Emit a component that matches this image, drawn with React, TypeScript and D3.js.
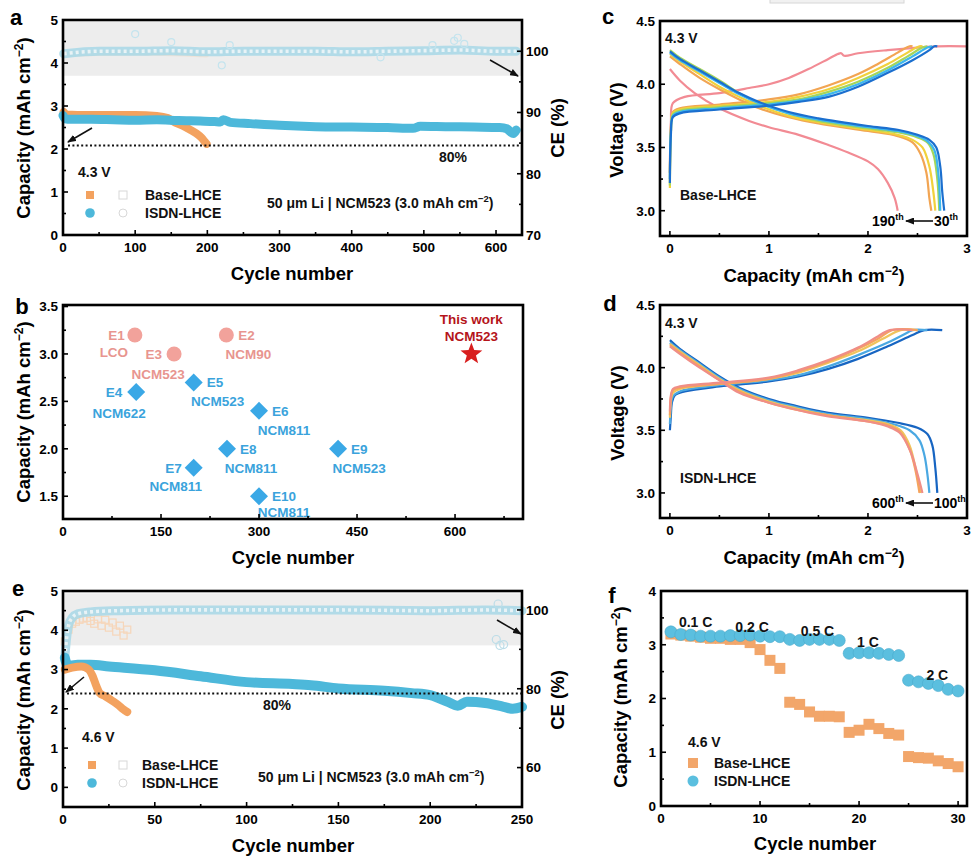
import React from 'react';
import * as d3 from 'd3';

const FONT = "'Liberation Sans', Arial, Helvetica, sans-serif";
const ORANGE = '#f3a25f';
const BLUE = '#4db8da';
const CE_BLUE = '#a8d9e8';
const CE_ORANGE = '#f6d6ba';
const BAND = '#ededed';

// ---------- a: 4.3 V long-term cycling ----------
const aIsdnCycles = [0, 2, 6, 15, 40, 70, 100, 130, 160, 190, 210, 218, 222, 232, 260, 300, 350, 400, 450, 485, 495, 530, 570, 605, 615, 620, 624, 628];
const aIsdnCap = [2.78, 2.72, 2.69, 2.69, 2.69, 2.68, 2.67, 2.68, 2.66, 2.65, 2.64, 2.63, 2.68, 2.62, 2.59, 2.55, 2.52, 2.51, 2.5, 2.48, 2.53, 2.52, 2.51, 2.5, 2.47, 2.4, 2.36, 2.44];
const aBaseCycles = [1, 5, 20, 60, 100, 130, 145, 155, 165, 175, 185, 192, 197, 199];
const aBaseCap = [2.86, 2.8, 2.79, 2.79, 2.79, 2.77, 2.72, 2.62, 2.55, 2.46, 2.36, 2.26, 2.16, 2.12];
const aIsdnCeCycles = [1, 50, 100, 150, 200, 250, 300, 350, 400, 450, 500, 550, 600, 628];
const aIsdnCe = [99.6, 100, 100, 100.1, 99.9, 100, 100, 100, 99.9, 100, 100.1, 100.2, 100, 100];
const aBaseCeCycles = [1, 100, 199];
const aBaseCe = [99.5, 99.7, 99.4];
const aCeOutCycles = [100, 150, 220, 231, 440, 512, 542, 547, 556];
const aCeOut = [102.8, 101.5, 97.7, 101, 99, 101, 101.7, 102.2, 101.2];

// ---------- b: comparison with literature ----------
const bNames = ['E1', 'E2', 'E3', 'E4', 'E5', 'E6', 'E7', 'E8', 'E9', 'E10'];
const bCathodes = ['LCO', 'NCM90', 'NCM523', 'NCM622', 'NCM523', 'NCM811', 'NCM811', 'NCM811', 'NCM523', 'NCM811'];
const bCycles = [110, 250, 170, 112, 200, 300, 200, 251, 421, 300];
const bCaps = [3.2, 3.2, 3.0, 2.6, 2.7, 2.4, 1.8, 2.0, 2.0, 1.5];
const bKinds = ['circle', 'circle', 'circle', 'diamond', 'diamond', 'diamond', 'diamond', 'diamond', 'diamond', 'diamond'];
const thisWorkCycle = 625;
const thisWorkCap = 3.0;

// ---------- c: Base-LHCE voltage profiles ----------
const cBlueChg = [[0, 3.22], [0.01, 3.6], [0.03, 3.74], [0.1, 3.77], [0.5, 3.8], [1.0, 3.83], [1.3, 3.86], [1.6, 3.9], [1.9, 3.98], [2.2, 4.09], [2.45, 4.19], [2.62, 4.27], [2.67, 4.3], [2.7, 4.3]];
const cBlueDis = [[0, 4.26], [0.1, 4.2], [0.3, 4.11], [0.5, 4.02], [0.7, 3.93], [0.9, 3.86], [1.2, 3.78], [1.5, 3.73], [2.0, 3.67], [2.3, 3.64], [2.5, 3.6], [2.62, 3.56], [2.69, 3.5], [2.73, 3.35], [2.75, 3.15], [2.77, 3.0]];
const cCyanChg = [[0, 3.25], [0.01, 3.62], [0.03, 3.75], [0.1, 3.78], [0.5, 3.81], [1.0, 3.84], [1.3, 3.87], [1.6, 3.92], [1.9, 4.0], [2.2, 4.11], [2.45, 4.22], [2.6, 4.29], [2.65, 4.3]];
const cCyanDis = [[0, 4.25], [0.1, 4.19], [0.3, 4.1], [0.5, 4.01], [0.7, 3.92], [0.9, 3.85], [1.2, 3.77], [1.5, 3.72], [2.0, 3.66], [2.3, 3.63], [2.5, 3.59], [2.6, 3.55], [2.67, 3.48], [2.71, 3.3], [2.73, 3.0]];
const cGreenChg = [[0, 3.2], [0.01, 3.62], [0.03, 3.76], [0.1, 3.79], [0.5, 3.82], [1.0, 3.85], [1.3, 3.88], [1.6, 3.94], [1.9, 4.02], [2.2, 4.13], [2.4, 4.22], [2.55, 4.29], [2.6, 4.3]];
const cGreenDis = [[0, 4.27], [0.1, 4.21], [0.3, 4.12], [0.5, 4.03], [0.7, 3.93], [0.9, 3.85], [1.2, 3.77], [1.5, 3.71], [2.0, 3.65], [2.3, 3.62], [2.5, 3.58], [2.6, 3.54], [2.66, 3.45], [2.7, 3.25], [2.72, 3.0]];
const cYellowChg = [[0, 3.18], [0.01, 3.62], [0.03, 3.77], [0.1, 3.8], [0.5, 3.83], [1.0, 3.86], [1.3, 3.9], [1.6, 3.96], [1.9, 4.05], [2.2, 4.16], [2.4, 4.25], [2.52, 4.3], [2.55, 4.3]];
const cYellowDis = [[0, 4.24], [0.1, 4.18], [0.3, 4.08], [0.5, 3.98], [0.7, 3.9], [0.9, 3.83], [1.2, 3.75], [1.5, 3.7], [2.0, 3.64], [2.3, 3.6], [2.45, 3.56], [2.55, 3.5], [2.62, 3.35], [2.66, 3.15], [2.68, 3.0]];
const cOrangeChg = [[0, 3.3], [0.01, 3.65], [0.03, 3.78], [0.1, 3.81], [0.5, 3.84], [1.0, 3.88], [1.3, 3.92], [1.6, 3.99], [1.9, 4.08], [2.1, 4.16], [2.3, 4.25], [2.42, 4.3], [2.45, 4.3]];
const cOrangeDis = [[0, 4.22], [0.1, 4.16], [0.3, 4.05], [0.5, 3.96], [0.7, 3.88], [0.9, 3.81], [1.2, 3.74], [1.5, 3.69], [2.0, 3.63], [2.3, 3.59], [2.45, 3.54], [2.53, 3.45], [2.59, 3.3], [2.62, 3.1], [2.64, 3.0]];
const cPinkChg = [[0, 3.3], [0.01, 3.7], [0.03, 3.85], [0.15, 3.9], [0.5, 3.93], [0.8, 3.97], [1.0, 4.0], [1.2, 4.05], [1.4, 4.12], [1.6, 4.2], [1.7, 4.24], [1.73, 4.245], [1.76, 4.225], [1.9, 4.245], [2.2, 4.27], [2.5, 4.29], [2.7, 4.3], [3.0, 4.3]];
const cPinkDis = [[0, 4.12], [0.1, 4.03], [0.25, 3.93], [0.5, 3.81], [0.8, 3.71], [1.0, 3.66], [1.3, 3.6], [1.6, 3.52], [1.8, 3.46], [2.0, 3.39], [2.1, 3.33], [2.2, 3.22], [2.27, 3.1], [2.3, 3.0]];
const cCurves = [
  { color: '#f28b94', chg: cPinkChg, dis: cPinkDis },
  { color: '#f2a553', chg: cOrangeChg, dis: cOrangeDis },
  { color: '#f1d13c', chg: cYellowChg, dis: cYellowDis },
  { color: '#a5d65a', chg: cGreenChg, dis: cGreenDis },
  { color: '#3cb6ee', chg: cCyanChg, dis: cCyanDis },
  { color: '#1b6fcf', chg: cBlueChg, dis: cBlueDis },
];

// ---------- d: ISDN-LHCE voltage profiles ----------
const dBlueChg = [[0, 3.5], [0.01, 3.62], [0.02, 3.72], [0.05, 3.78], [0.15, 3.81], [0.5, 3.85], [1.0, 3.89], [1.3, 3.93], [1.6, 3.99], [1.9, 4.07], [2.2, 4.17], [2.45, 4.26], [2.57, 4.3], [2.75, 4.3]];
const dBlueDis = [[0, 4.22], [0.1, 4.15], [0.3, 4.04], [0.5, 3.93], [0.7, 3.84], [1.0, 3.75], [1.3, 3.69], [1.6, 3.64], [2.0, 3.6], [2.3, 3.56], [2.5, 3.52], [2.6, 3.47], [2.65, 3.38], [2.68, 3.2], [2.7, 3.0]];
const dLBlueChg = [[0, 3.55], [0.01, 3.68], [0.03, 3.77], [0.1, 3.81], [0.5, 3.86], [1.0, 3.9], [1.3, 3.94], [1.6, 4.01], [1.9, 4.1], [2.2, 4.2], [2.4, 4.28], [2.45, 4.3], [2.6, 4.3]];
const dLBlueDis = [[0, 4.2], [0.1, 4.14], [0.3, 4.03], [0.5, 3.92], [0.7, 3.83], [1.0, 3.74], [1.3, 3.68], [1.6, 3.63], [2.0, 3.59], [2.25, 3.55], [2.42, 3.5], [2.52, 3.42], [2.57, 3.3], [2.6, 3.15], [2.62, 3.0]];
const dYellowChg = [[0, 3.6], [0.01, 3.74], [0.03, 3.8], [0.1, 3.83], [0.5, 3.87], [1.0, 3.91], [1.3, 3.96], [1.6, 4.04], [1.9, 4.13], [2.15, 4.23], [2.33, 4.3], [2.5, 4.3]];
const dYellowDis = [[0, 4.19], [0.1, 4.13], [0.3, 4.02], [0.5, 3.91], [0.7, 3.82], [1.0, 3.73], [1.3, 3.67], [1.6, 3.62], [2.0, 3.58], [2.2, 3.55], [2.33, 3.5], [2.42, 3.38], [2.48, 3.2], [2.53, 3.0]];
const dOrangeChg = [[0, 3.62], [0.01, 3.76], [0.03, 3.82], [0.1, 3.84], [0.5, 3.87], [1.0, 3.91], [1.3, 3.97], [1.6, 4.05], [1.9, 4.15], [2.1, 4.23], [2.25, 4.3], [2.5, 4.3]];
const dOrangeDis = [[0, 4.18], [0.1, 4.12], [0.3, 4.01], [0.5, 3.9], [0.7, 3.81], [1.0, 3.72], [1.3, 3.66], [1.6, 3.62], [2.0, 3.57], [2.2, 3.54], [2.32, 3.49], [2.42, 3.35], [2.48, 3.18], [2.52, 3.0]];
const dPinkChg = [[0, 3.65], [0.01, 3.78], [0.03, 3.83], [0.1, 3.85], [0.5, 3.88], [1.0, 3.92], [1.3, 3.98], [1.6, 4.06], [1.9, 4.16], [2.08, 4.24], [2.22, 4.3], [2.45, 4.3]];
const dPinkDis = [[0, 4.17], [0.1, 4.11], [0.3, 4.0], [0.5, 3.9], [0.7, 3.8], [1.0, 3.72], [1.3, 3.66], [1.6, 3.61], [2.0, 3.57], [2.2, 3.53], [2.32, 3.48], [2.43, 3.33], [2.5, 3.15], [2.55, 3.0]];
const dCurves = [
  { color: '#1765c2', chg: dBlueChg, dis: dBlueDis },
  { color: '#4aa8e2', chg: dLBlueChg, dis: dLBlueDis },
  { color: '#f0c45c', chg: dYellowChg, dis: dYellowDis },
  { color: '#f5a35e', chg: dOrangeChg, dis: dOrangeDis },
  { color: '#f08e86', chg: dPinkChg, dis: dPinkDis },
];

// ---------- e: 4.6 V cycling ----------
const eIsdnCycles = [1, 2, 4, 8, 15, 25, 50, 75, 100, 125, 135, 150, 175, 190, 200, 210, 215, 220, 230, 240, 245, 250];
const eIsdnCap = [3.3, 3.15, 3.1, 3.12, 3.12, 3.08, 2.98, 2.83, 2.68, 2.63, 2.6, 2.52, 2.46, 2.4, 2.35, 2.17, 2.08, 2.18, 2.15, 2.05, 2.0, 2.05];
const eBaseCycles = [1, 5, 10, 14, 16, 18, 20, 23, 27, 30, 33, 35];
const eBaseCap = [3.0, 3.05, 3.08, 3.0, 2.85, 2.6, 2.4, 2.32, 2.2, 2.1, 1.98, 1.92];
const eIsdnCeCycles = [1, 2, 3, 5, 8, 15, 30, 60, 100, 150, 200, 230, 250];
const eIsdnCe = [88, 93, 96, 98, 99, 99.5, 99.8, 100, 100, 100, 99.8, 100, 99.8];
const eBaseCeCycles = [1, 3, 5, 7, 9, 11, 13, 15, 17, 19, 21, 23, 25, 27, 29, 31, 33, 35];
const eBaseCe = [92, 95, 96.5, 97, 97.5, 97.8, 98, 97.2, 96.5, 97.6, 96, 97.5, 95.5, 96.8, 94.5, 96, 93.5, 95];
const eCeOutCycles = [236, 238, 240, 237];
const eCeOut = [92.5, 91, 91.2, 101.5];

// ---------- f: rate capability ----------
const fCycles = [1, 2, 3, 4, 5, 6, 7, 8, 9, 10, 11, 12, 13, 14, 15, 16, 17, 18, 19, 20, 21, 22, 23, 24, 25, 26, 27, 28, 29, 30];
const fIsdn = [3.24, 3.19, 3.18, 3.16, 3.16, 3.16, 3.17, 3.17, 3.18, 3.16, 3.15, 3.15, 3.1, 3.08, 3.1, 3.1, 3.1, 3.08, 2.84, 2.85, 2.85, 2.84, 2.82, 2.8, 2.34, 2.31, 2.28, 2.24, 2.17, 2.14];
const fBase = [3.2, 3.18, 3.16, 3.14, 3.12, 3.12, 3.1, 3.1, 3.04, 2.91, 2.71, 2.56, 1.93, 1.89, 1.75, 1.67, 1.67, 1.66, 1.37, 1.41, 1.52, 1.44, 1.35, 1.32, 0.92, 0.9, 0.89, 0.84, 0.79, 0.73];
const fRates = ['0.1 C', '0.2 C', '0.5 C', '1 C', '2 C'];
const fRateCycle = [3.5, 9.2, 15.8, 20.9, 27.9];
const fRateCap = [3.42, 3.34, 3.25, 3.05, 2.43];

// ---------- scales ----------
const xA = d3.scaleLinear().domain([0, 636]).range([63, 522]);
const yA = d3.scaleLinear().domain([0, 5]).range([235, 20]);
const ceA = d3.scaleLinear().domain([70, 105.1]).range([235, 20]);
const xB = d3.scaleLinear().domain([0, 704]).range([63, 523]);
const yB = d3.scaleLinear().domain([1.26, 3.516]).range([519, 305]);
const xE = d3.scaleLinear().domain([0, 250]).range([63, 522]);
const yE = d3.scaleLinear().domain([-0.5, 5]).range([807, 591]);
const ceE = d3.scaleLinear().domain([50, 104.8]).range([807, 591]);
const xC = d3.scaleLinear().domain([-0.1, 3]).range([660, 967]);
const yC = d3.scaleLinear().domain([2.8, 4.5]).range([236, 21]);
const xD = d3.scaleLinear().domain([-0.1, 3]).range([660, 967]);
const yD = d3.scaleLinear().domain([2.8, 4.5]).range([518, 305]);
const xF = d3.scaleLinear().domain([0, 30.9]).range([661, 967]);
const yF = d3.scaleLinear().domain([0, 4]).range([806, 591]);

const f1 = d3.format('.1f');

function Ticks({ x, y, xMajor, xMinor, yMajor, yMinor, yFmt = String, r = null, rMajor = [], rMinor = [] }: any) {
  const [L, R] = x.range();
  const [B, T] = y.range();
  const tk = (k: string, x1: number, y1: number, x2: number, y2: number) => (
    <line key={k} x1={x1} y1={y1} x2={x2} y2={y2} stroke="#000" strokeWidth={1.6} />
  );
  return (
    <g fontFamily={FONT} fontWeight="bold" fontSize={13.5}>
      {xMajor.map((v: number) => tk('xM' + v, x(v), B, x(v), B - 5))}
      {xMinor.map((v: number) => tk('xm' + v, x(v), B, x(v), B - 3))}
      {yMajor.map((v: number) => tk('yM' + v, L, y(v), L + 5, y(v)))}
      {yMinor.map((v: number) => tk('ym' + v, L, y(v), L + 3, y(v)))}
      {r && rMajor.map((v: number) => tk('rM' + v, R, r(v), R - 5, r(v)))}
      {r && rMinor.map((v: number) => tk('rm' + v, R, r(v), R - 3, r(v)))}
      <rect x={L} y={T} width={R - L} height={B - T} fill="none" stroke="#000" strokeWidth={2.6} />
      {xMajor.map((v: number) => (
        <text key={'xl' + v} x={x(v)} y={B + 17} textAnchor="middle">{v}</text>
      ))}
      {yMajor.map((v: number) => (
        <text key={'yl' + v} x={L - 5} y={y(v)} dy="0.36em" textAnchor="end">{yFmt(v)}</text>
      ))}
      {r && rMajor.map((v: number) => (
        <text key={'rl' + v} x={R + 4} y={r(v)} dy="0.36em">{v}</text>
      ))}
    </g>
  );
}

function CapTitle({ x, y, rotate = true }: any) {
  const t = rotate ? `translate(${x},${y}) rotate(-90)` : `translate(${x},${y})`;
  return (
    <text transform={t} dy="0.36em" textAnchor="middle" fontFamily={FONT} fontWeight="bold" fontSize={18.5}>
      Capacity (mAh cm<tspan dy={-7} fontSize={12}>−2</tspan><tspan dy={7}>)</tspan>
    </text>
  );
}

function VTitle({ x, y, text }: any) {
  return (
    <text transform={`translate(${x},${y}) rotate(-90)`} dy="0.36em" textAnchor="middle" fontFamily={FONT} fontWeight="bold" fontSize={18.5}>
      {text}
    </text>
  );
}

function HTitle({ x, y, text }: any) {
  return (
    <text x={x} y={y} dy="0.36em" textAnchor="middle" fontFamily={FONT} fontWeight="bold" fontSize={18.5}>{text}</text>
  );
}

function Label({ x, y, children, anchor = 'start', size = 14, color = '#111' }: any) {
  return (
    <text x={x} y={y} dy="0.36em" textAnchor={anchor} fontFamily={FONT} fontWeight="bold" fontSize={size} fill={color}>{children}</text>
  );
}

function Letter({ x, y, t }: any) {
  return <text x={x} y={y} textAnchor="middle" fontFamily={FONT} fontWeight="bold" fontSize={22}>{t}</text>;
}

function Band({ xs, ys, x, y, color, width }: any) {
  const line = d3.line<number>().x((_, i) => x(xs[i])).y((v) => y(v)).curve(d3.curveMonotoneX);
  return <path d={line(ys) || ''} fill="none" stroke={color} strokeWidth={width} strokeLinecap="round" strokeLinejoin="round" />;
}

function CeBand({ xs, ys, x, y, color, width = 8, opacity = 0.85 }: any) {
  const line = d3.line<number>().x((_, i) => x(xs[i])).y((v) => y(v)).curve(d3.curveMonotoneX);
  const d = line(ys) || '';
  return (
    <g opacity={opacity}>
      <path d={d} fill="none" stroke={color} strokeWidth={width} strokeLinecap="round" />
      <path d={d} fill="none" stroke="#f7fbfc" strokeWidth={width * 0.4} strokeDasharray="3 3" opacity={0.8} />
    </g>
  );
}

function Arrow({ x1, y1, x2, y2 }: any) {
  return <line x1={x1} y1={y1} x2={x2} y2={y2} stroke="#111" strokeWidth={1.6} markerEnd="url(#arrowHead)" />;
}

function Profiles({ curves, x, y }: any) {
  const line = d3.line<number[]>().x((d) => x(d[0])).y((d) => y(d[1])).curve(d3.curveCatmullRom.alpha(0.5));
  return (
    <g fill="none" strokeWidth={2.2} strokeLinejoin="round">
      {curves.map((c: any, i: number) => (
        <g key={i} stroke={c.color}>
          <path d={line(c.chg) || ''} />
          <path d={line(c.dis) || ''} />
        </g>
      ))}
    </g>
  );
}

function Diamond({ cx, cy, r, fill }: any) {
  return <path d={`M${cx},${cy - r}L${cx + r},${cy}L${cx},${cy + r}L${cx - r},${cy}Z`} fill={fill} />;
}

function Sup({ base, sup }: any) {
  return (
    <>
      {base}<tspan dy={-6} fontSize={9}>{sup}</tspan><tspan dy={6}> </tspan>
    </>
  );
}

// label layout for panel b: offsets of name and cathode text from the marker
const bLayout = [
  { nx: -10, na: 'end', cx: -21, cy: 17 },
  { nx: 12, na: 'start', cx: 22, cy: 19 },
  { nx: -12, na: 'end', cx: -16, cy: 20 },
  { nx: -14, na: 'end', cx: -17, cy: 21 },
  { nx: 13, na: 'start', cx: 24, cy: 19 },
  { nx: 13, na: 'start', cx: 25, cy: 19 },
  { nx: -12, na: 'end', cx: -18, cy: 18 },
  { nx: 13, na: 'start', cx: 24, cy: 19 },
  { nx: 13, na: 'start', cx: 21, cy: 19 },
  { nx: 13, na: 'start', cx: 25, cy: 16 },
];

function star(cx: number, cy: number, R: number, r: number) {
  const pts: string[] = [];
  for (let i = 0; i < 10; i++) {
    const a = -Math.PI / 2 + (i * Math.PI) / 5;
    const rr = i % 2 === 0 ? R : r;
    pts.push(`${cx + rr * Math.cos(a)},${cy + rr * Math.sin(a)}`);
  }
  return 'M' + pts.join('L') + 'Z';
}

export default function App() {
  const aRatio = 2.08;
  const eRatio = 2.39;
  return (
    <svg width={976} height={858} viewBox="0 0 976 858" style={{ position: 'absolute', left: 0, top: 0, background: '#fff' }}>
      <defs>
        <marker id="arrowHead" markerWidth={9} markerHeight={7} refX={8} refY={3.5} orient="auto" markerUnits="userSpaceOnUse">
          <path d="M0,0L9,3.5L0,7Z" fill="#111" />
        </marker>
      </defs>
      <rect x={0} y={0} width={976} height={858} fill="#fff" />
      <rect x={770} y={-4} width={134} height={7} fill="#f1f1f1" stroke="#d6d6d6" />

      {/* ===== a ===== */}
      <Letter x={16} y={25} t="a" />
      <rect x={63} y={ceA(104.8)} width={459} height={ceA(96) - ceA(104.8)} fill={BAND} />
      <CeBand xs={aBaseCeCycles} ys={aBaseCe} x={xA} y={ceA} color={CE_ORANGE} width={5} opacity={0.4} />
      <CeBand xs={aIsdnCeCycles} ys={aIsdnCe} x={xA} y={ceA} color={CE_BLUE} width={9} />
      {aCeOut.map((v, i) => (
        <circle key={i} cx={xA(aCeOutCycles[i])} cy={ceA(v)} r={3.5} fill="none" stroke="#c4e4ee" strokeWidth={1.2} />
      ))}
      <Band xs={aBaseCycles} ys={aBaseCap} x={xA} y={yA} color={ORANGE} width={8} />
      <Band xs={aIsdnCycles} ys={aIsdnCap} x={xA} y={yA} color={BLUE} width={9} />
      <line x1={68} x2={522} y1={yA(aRatio)} y2={yA(aRatio)} stroke="#111" strokeWidth={2} strokeDasharray="2 2.4" />
      <Label x={453} y={157} anchor="middle">80%</Label>
      <Arrow x1={92} y1={128} x2={68} y2={142} />
      <Arrow x1={490} y1={60} x2={518} y2={76} />
      <Label x={78} y={172}>4.3 V</Label>
      <rect x={86} y={191} width={8} height={8} fill={ORANGE} />
      <rect x={119} y={191} width={8} height={8} fill="none" stroke="#d8d8d8" />
      <Label x={145} y={195}>Base-LHCE</Label>
      <circle cx={90} cy={213} r={4.8} fill={BLUE} />
      <circle cx={123} cy={213} r={4} fill="none" stroke="#d8d8d8" />
      <Label x={145} y={213}>ISDN-LHCE</Label>
      <text x={267} y={208} fontFamily={FONT} fontWeight="bold" fontSize={14} fill="#111">
        50 μm Li | NCM523 (3.0 mAh cm<tspan dy={-6} fontSize={9.5}>−2</tspan><tspan dy={6}>)</tspan>
      </text>
      <Ticks x={xA} y={yA} xMajor={[0, 100, 200, 300, 400, 500, 600]} xMinor={[50, 150, 250, 350, 450, 550]}
        yMajor={[0, 1, 2, 3, 4, 5]} yMinor={[0.5, 1.5, 2.5, 3.5, 4.5]}
        r={ceA} rMajor={[70, 80, 90, 100]} rMinor={[75, 85, 95]} />
      <CapTitle x={23} y={128} />
      <VTitle x={557} y={128} text="CE (%)" />
      <HTitle x={292} y={273} text="Cycle number" />

      {/* ===== b ===== */}
      <Letter x={22} y={314} t="b" />
      {bCaps.map((v, i) => {
        const cx = xB(bCycles[i]);
        const cy = yB(v);
        const pink = bKinds[i] === 'circle';
        const col = pink ? '#f2a29b' : '#3aa8e6';
        const tcol = pink ? '#e8958f' : '#3aa3dc';
        const L = bLayout[i];
        return (
          <g key={bNames[i]}>
            {pink ? <circle cx={cx} cy={cy} r={7.5} fill={col} /> : <Diamond cx={cx} cy={cy} r={9} fill={col} />}
            <Label x={cx + L.nx} y={cy} anchor={L.na} size={13.5} color={tcol}>{bNames[i]}</Label>
            <Label x={cx + L.cx} y={cy + L.cy} anchor="middle" size={13.5} color={tcol}>{bCathodes[i]}</Label>
          </g>
        );
      })}
      <path d={star(xB(thisWorkCycle), yB(thisWorkCap), 11.5, 4.8)} fill="#d81e1e" />
      <Label x={xB(thisWorkCycle)} y={yB(thisWorkCap) - 35} anchor="middle" size={13.5} color="#b5141a">This work</Label>
      <Label x={xB(thisWorkCycle)} y={yB(thisWorkCap) - 18} anchor="middle" size={13.5} color="#b5141a">NCM523</Label>
      <Ticks x={xB} y={yB} xMajor={[0, 150, 300, 450, 600]} xMinor={[75, 225, 375, 525, 675]}
        yMajor={[1.5, 2, 2.5, 3, 3.5]} yMinor={[1.75, 2.25, 2.75, 3.25]} yFmt={f1} />
      <CapTitle x={23} y={412} />
      <HTitle x={293} y={557} text="Cycle number" />

      {/* ===== e ===== */}
      <Letter x={18} y={596} t="e" />
      <rect x={63} y={ceE(104.2)} width={459} height={ceE(91) - ceE(104.2)} fill={BAND} />
      {eBaseCe.map((v, i) => (
        <rect key={i} x={xE(eBaseCeCycles[i]) - 3.5} y={ceE(v) - 3.5} width={7} height={7} fill="none" stroke={CE_ORANGE} strokeWidth={1.2} />
      ))}
      <CeBand xs={eIsdnCeCycles} ys={eIsdnCe} x={xE} y={ceE} color={CE_BLUE} width={9} />
      {eCeOut.map((v, i) => (
        <circle key={i} cx={xE(eCeOutCycles[i])} cy={ceE(v)} r={4} fill="none" stroke="#bcdde8" strokeWidth={1.2} />
      ))}
      <Band xs={eIsdnCycles} ys={eIsdnCap} x={xE} y={yE} color={BLUE} width={10} />
      <Band xs={eBaseCycles} ys={eBaseCap} x={xE} y={yE} color={ORANGE} width={8} />
      <line x1={67} x2={522} y1={yE(eRatio)} y2={yE(eRatio)} stroke="#111" strokeWidth={2} strokeDasharray="2 2.4" />
      <Label x={277} y={705} anchor="middle">80%</Label>
      <Arrow x1={84} y1={677} x2={66} y2={692} />
      <Arrow x1={497} y1={620} x2={521} y2={634} />
      <Label x={82} y={737}>4.6 V</Label>
      <rect x={88} y={761} width={8} height={8} fill={ORANGE} />
      <rect x={119} y={761} width={8} height={8} fill="none" stroke="#d8d8d8" />
      <Label x={142} y={765}>Base-LHCE</Label>
      <circle cx={92} cy={783} r={4.8} fill={BLUE} />
      <circle cx={123} cy={783} r={4} fill="none" stroke="#d8d8d8" />
      <Label x={142} y={783}>ISDN-LHCE</Label>
      <text x={258} y={782} fontFamily={FONT} fontWeight="bold" fontSize={14} fill="#111">
        50 μm Li | NCM523 (3.0 mAh cm<tspan dy={-6} fontSize={9.5}>−2</tspan><tspan dy={6}>)</tspan>
      </text>
      <Ticks x={xE} y={yE} xMajor={[0, 50, 100, 150, 200, 250]} xMinor={[25, 75, 125, 175, 225]}
        yMajor={[0, 1, 2, 3, 4, 5]} yMinor={[0.5, 1.5, 2.5, 3.5, 4.5]}
        r={ceE} rMajor={[60, 80, 100]} rMinor={[70, 90]} />
      <CapTitle x={23} y={700} />
      <VTitle x={557} y={700} text="CE (%)" />
      <HTitle x={293} y={845} text="Cycle number" />

      {/* ===== c ===== */}
      <Letter x={608} y={24} t="c" />
      <Profiles curves={cCurves} x={xC} y={yC} />
      <Label x={665} y={38}>4.3 V</Label>
      <Label x={680} y={195}>Base-LHCE</Label>
      <text x={872} y={226} fontFamily={FONT} fontWeight="bold" fontSize={14}><Sup base="190" sup="th" /></text>
      <Arrow x1={933} y1={221} x2={906} y2={221} />
      <text x={934} y={226} fontFamily={FONT} fontWeight="bold" fontSize={14}><Sup base="30" sup="th" /></text>
      <Ticks x={xC} y={yC} xMajor={[0, 1, 2, 3]} xMinor={[0.5, 1.5, 2.5]}
        yMajor={[3, 3.5, 4, 4.5]} yMinor={[3.25, 3.75, 4.25]} yFmt={f1} />
      <VTitle x={616} y={130} text="Voltage (V)" />
      <CapTitle x={814} y={275} rotate={false} />

      {/* ===== d ===== */}
      <Letter x={610} y={311} t="d" />
      <Profiles curves={dCurves} x={xD} y={yD} />
      <Label x={665} y={323}>4.3 V</Label>
      <Label x={680} y={478}>ISDN-LHCE</Label>
      <text x={872} y={508} fontFamily={FONT} fontWeight="bold" fontSize={14}><Sup base="600" sup="th" /></text>
      <Arrow x1={933} y1={503} x2={906} y2={503} />
      <text x={934} y={508} fontFamily={FONT} fontWeight="bold" fontSize={14}><Sup base="100" sup="th" /></text>
      <Ticks x={xD} y={yD} xMajor={[0, 1, 2, 3]} xMinor={[0.5, 1.5, 2.5]}
        yMajor={[3, 3.5, 4, 4.5]} yMinor={[3.25, 3.75, 4.25]} yFmt={f1} />
      <VTitle x={617} y={413} text="Voltage (V)" />
      <CapTitle x={814} y={557} rotate={false} />

      {/* ===== f ===== */}
      <Letter x={612} y={603} t="f" />
      {fBase.map((v, i) => (
        <rect key={'b' + i} x={xF(fCycles[i]) - 5.5} y={yF(v) - 5.5} width={11} height={11} fill="#f2a66a" />
      ))}
      {fIsdn.map((v, i) => (
        <circle key={'i' + i} cx={xF(fCycles[i])} cy={yF(v)} r={6} fill="#5bbfdf" stroke="#49a9cc" strokeWidth={0.6} />
      ))}
      {fRates.map((t, i) => (
        <Label key={t} x={xF(fRateCycle[i])} y={yF(fRateCap[i])} anchor="middle">{t}</Label>
      ))}
      <Label x={688} y={742}>4.6 V</Label>
      <rect x={688} y={758} width={10} height={10} fill="#f2a66a" />
      <Label x={714} y={763}>Base-LHCE</Label>
      <circle cx={693} cy={781} r={5.5} fill="#5bbfdf" />
      <Label x={714} y={781}>ISDN-LHCE</Label>
      <Ticks x={xF} y={yF} xMajor={[0, 10, 20, 30]} xMinor={[5, 15, 25]}
        yMajor={[0, 1, 2, 3, 4]} yMinor={[0.5, 1.5, 2.5, 3.5]} />
      <CapTitle x={620} y={697} />
      <HTitle x={815} y={843} text="Cycle number" />
    </svg>
  );
}
